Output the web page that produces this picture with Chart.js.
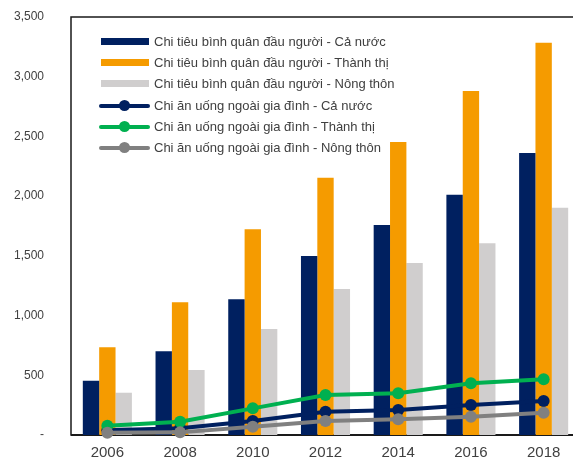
<!DOCTYPE html>
<html>
<head>
<meta charset="utf-8">
<script src="https://cdn.jsdelivr.net/npm/chart.js@4/dist/chart.umd.min.js"></script>
<style>
  html, body { margin: 0; padding: 0; background: #fff; overflow: hidden; }
  #wrap { position: relative; width: 580px; height: 460px; }
  #chart { display: block; }
  #legend { position: absolute; left: 99px; top: 31px; font: 13px "Liberation Sans", Arial, sans-serif; color: #404040; }
  #legend .row { position: relative; height: 21.2px; line-height: 21.2px; padding-left: 55px; white-space: nowrap; }
  #legend .box { position: absolute; left: 2px; top: 7px; width: 48px; height: 7px; }
  #legend .ln { position: absolute; left: 0; top: 9px; width: 51px; height: 4px; border-radius: 2px; }
  #legend .dot { position: absolute; left: 20px; top: 5.5px; width: 11px; height: 11px; border-radius: 50%; }
</style>
</head>
<body>
<div id="wrap">
  <canvas id="chart" width="580" height="460"></canvas>
  <div id="legend"></div>
</div>
<script>
var years = ['2006', '2008', '2010', '2012', '2014', '2016', '2018']

// chi tieu binh quan dau nguoi (bars)
var spendAll   = [455, 701, 1136, 1499, 1758, 2012, 2361]
var spendUrban = [734, 1111, 1722, 2155, 2453, 2880, 3285]
var spendRural = [354, 544, 888, 1222, 1440, 1605, 1903]

// chi an uong ngoai gia dinh (lines)
var eatOutAll   = [40, 56, 117, 195, 209, 251, 285]
var eatOutUrban = [78, 111, 223, 335, 349, 433, 466]
var eatOutRural = [19, 22, 70, 117, 131, 153, 187]

var navy = '#002060', orange = '#F59B00', lightGray = '#D0CECE'
var green = '#00B050', gray = '#808080'
var fontFamily = '"Liberation Sans", Arial, sans-serif'

function bar(label, data, color, order) {
  return { type: 'bar', label: label, data: data, backgroundColor: color, order: order,
           barPercentage: 1, categoryPercentage: 0.675 }
}
function line(label, data, color, order) {
  return { type: 'line', label: label, data: data, borderColor: color, backgroundColor: color,
           borderWidth: 4, pointRadius: 6, pointHoverRadius: 6, pointBorderWidth: 0,
           tension: 0, clip: false, order: order }
}

var datasets = [
  bar('Chi tiêu bình quân đầu người - Cả nước', spendAll, navy, 3),
  bar('Chi tiêu bình quân đầu người - Thành thị', spendUrban, orange, 4),
  bar('Chi tiêu bình quân đầu người - Nông thôn', spendRural, lightGray, 5),
  line('Chi ăn uống ngoài gia đình - Cả nước', eatOutAll, navy, 2),
  line('Chi ăn uống ngoài gia đình - Thành thị', eatOutUrban, green, 1),
  line('Chi ăn uống ngoài gia đình - Nông thôn', eatOutRural, gray, 0),
]

// frame around the plot area, under the datasets
var frame = {
  id: 'frame',
  beforeDatasetsDraw(chart) {
    var a = chart.chartArea, ctx = chart.ctx
    ctx.save()
    ctx.strokeStyle = '#1a1a1a'
    ctx.lineWidth = 1.5
    ctx.strokeRect(a.left, a.top, a.right - a.left, a.bottom - a.top)
    ctx.beginPath()
    ctx.lineWidth = 2
    ctx.moveTo(a.left, a.bottom)
    ctx.lineTo(a.right, a.bottom)
    ctx.stroke()
    ctx.restore()
  }
}

new Chart(document.getElementById('chart'), {
  data: { labels: years, datasets: datasets },
  plugins: [frame],
  options: {
    responsive: false,
    animation: false,
    layout: { autoPadding: false, padding: { top: 17, right: 0, bottom: 0, left: 0 } },
    plugins: { legend: { display: false }, tooltip: { enabled: false } },
    scales: {
      x: {
        grid: { display: false, drawTicks: false },
        border: { display: false },
        ticks: { color: '#404040', padding: 9, font: { family: fontFamily, size: 15 } },
        afterFit: (s) => { s.height = 25; s.paddingLeft = 0; s.paddingRight = 0 },
      },
      y: {
        min: 0, max: 3500,
        grid: { display: false, drawTicks: false },
        border: { display: false },
        ticks: {
          stepSize: 500, padding: 27, color: '#404040',
          font: { family: fontFamily, size: 12 },
          callback: (v) => v === 0 ? '-' : v.toLocaleString('en-US'),
        },
        // the tick padding is horizontal only here
        afterFit: (s) => { s.width = 71; s.paddingTop = 0; s.paddingBottom = 0 },
      },
    },
  },
})

// legend built from the datasets
var legend = document.getElementById('legend')
datasets.forEach((ds) => {
  var row = document.createElement('div')
  row.className = 'row'
  if (ds.type === 'bar') {
    row.innerHTML = '<span class="box" style="background:' + ds.backgroundColor + '"></span>'
  } else {
    row.innerHTML = '<span class="ln" style="background:' + ds.borderColor + '"></span>' +
                    '<span class="dot" style="background:' + ds.borderColor + '"></span>'
  }
  row.appendChild(document.createTextNode(ds.label))
  legend.appendChild(row)
})
</script>
</body>
</html>
